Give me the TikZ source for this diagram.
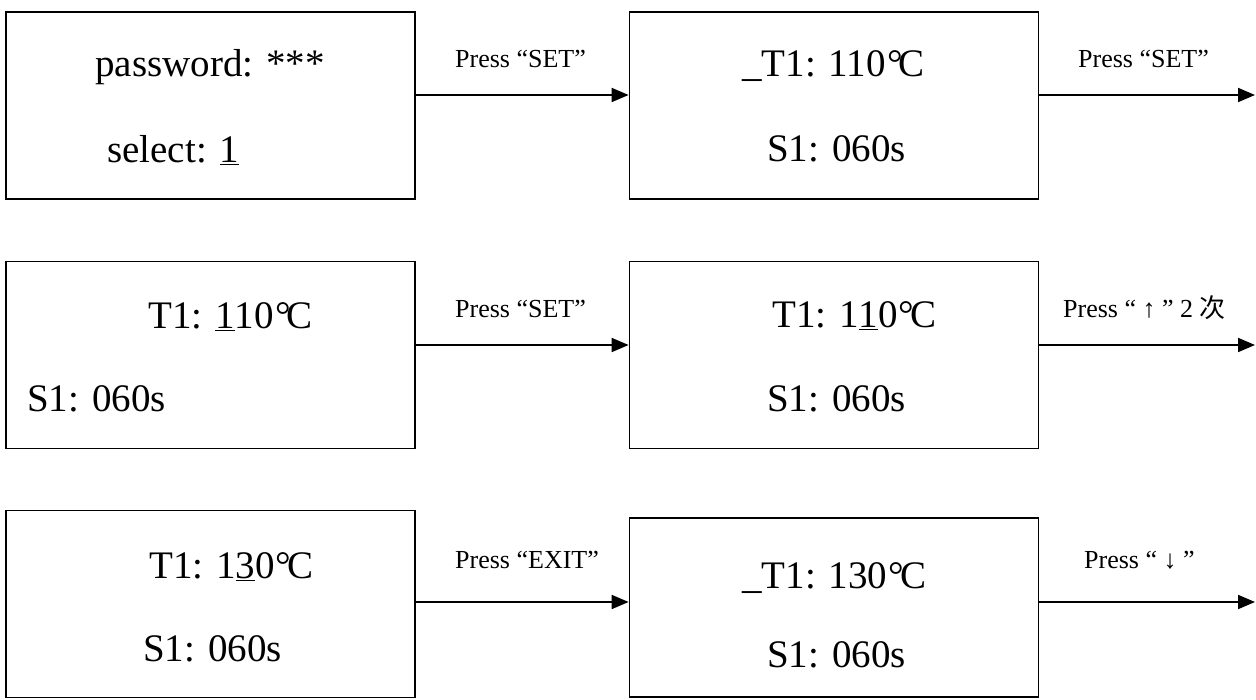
\documentclass[tikz,border=0pt]{standalone}
\usepackage{fontspec}
\setmainfont{Liberation Serif}
\newfontfamily\cjk{Noto Sans CJK SC}
\usetikzlibrary{arrows.meta}
\newcommand{\degc}{\kern0.03em°\kern-0.1em C}

\begin{document}
\begin{tikzpicture}[x=1pt, y=-1pt,
	screen/.style={draw, line width=1.8pt, minimum width=409pt, minimum height=187pt, inner sep=0pt},
	big/.style={anchor=base west, inner sep=0pt, font=\fontsize{39}{39}\selectfont},
	press/.style={anchor=base west, inner sep=0pt, font=\fontsize{26}{26}\selectfont},
	flow/.style={line width=1.8pt, -{Triangle[length=17pt, width=14pt]}}]

	\useasboundingbox (0,0) rectangle (1256,700);

	%screens
	\node[screen] (s1) at (210.5,105.5) {};
	\node[screen] (s2) at (834,105.5) {};
	\node[screen] (s3) at (210.5,355) {};
	\node[screen] (s4) at (834,355) {};
	\node[screen] (s5) at (210.5,604) {};
	\node[screen, minimum height=179pt] (s6) at (834,607.5) {};

	%screen texts
	\node[big] (t1a) at (95,77) {password: ***};
	\node[big] (t1b) at (107,163) {select: \underline{1}};
	\node[big] (t2a) at (742,77) {\_T1: 110\degc};
	\node[big] (t2b) at (767,162) {S1: 060s};
	\node[big] (t3a) at (148,329) {T1: \underline{1}10\degc};
	\node[big] (t3b) at (27,412) {S1: 060s};
	\node[big] (t4a) at (772,328) {T1: 1\underline{1}0\degc};
	\node[big] (t4b) at (767,412) {S1: 060s};
	\node[big] (t5a) at (149,578) {T1: 1\underline{3}0\degc};
	\node[big] (t5b) at (143,661) {S1: 060s};
	\node[big] (t6a) at (742,588) {\_T1: 130\degc};
	\node[big] (t6b) at (767,667) {S1: 060s};

	%arrows
	\coordinate (o1) at (1255,95);
	\coordinate (o2) at (1255,345);
	\coordinate (o3) at (1255,602);
	\draw[flow] (s1.east |- o1) -- (s2.west |- o1);
	\draw[flow] (s2.east |- o1) -- (o1);
	\draw[flow] (s3.east |- o2) -- (s4.west |- o2);
	\draw[flow] (s4.east |- o2) -- (o2);
	\draw[flow] (s5.east |- o3) -- (s6.west |- o3);
	\draw[flow] (s6.east |- o3) -- (o3);

	%key labels
	\node[press] (l1) at (455,68) {Press “SET”};
	\node[press] (r1) at (1078,68) {Press “SET”};
	\node[press] (l2) at (455,318) {Press “SET”};
	\node[press] (r2) at (1063,318) {Press “ ↑ ” 2 {\cjk 次}};
	\node[press] (l3) at (455,568) {Press “EXIT”};
	\node[press] (r3) at (1084,568) {Press “ ↓ ”};

\end{tikzpicture}
\end{document}
